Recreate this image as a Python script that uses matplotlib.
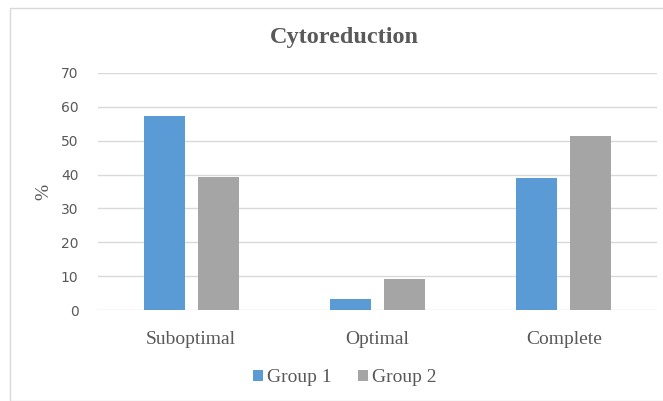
import matplotlib
matplotlib.use('Agg')
import matplotlib.pyplot as plt
import numpy as np
from matplotlib.patches import Rectangle

# data
categories = ['Suboptimal', 'Optimal', 'Complete']
group1 = [57.4, 3.3, 38.9]
group2 = [39.4, 9.1, 51.4]

blue = '#5B9BD5'
grey = '#A5A5A5'
text_grey = '#595959'

fig = plt.figure(figsize=(6.63, 4.01), dpi=100)
ax = fig.add_axes([98 / 663, 1 - 310 / 401, 559 / 663, 237 / 401])

x = np.arange(len(categories))
w = 0.22
ax.bar(x - 0.145, group1, w, color=blue, label='Group 1', zorder=3)
ax.bar(x + 0.145, group2, w, color=grey, label='Group 2', zorder=3)

ax.set_xlim(-0.5, 2.5)
ax.set_ylim(0, 70)
ax.set_yticks(range(0, 71, 10))
ax.yaxis.grid(True, color='#D9D9D9', linewidth=1, zorder=0)
for s in ax.spines.values():
    s.set_visible(False)
ax.tick_params(length=0)
ax.tick_params(axis='y', labelsize=10, labelcolor=text_grey, pad=14)
ax.set_xticks(x)
ax.set_xticklabels(categories, family='Liberation Serif', fontsize=14, color=text_grey)
ax.tick_params(axis='x', pad=15)

ax.set_ylabel('%', family='Liberation Serif', fontsize=14, color=text_grey, labelpad=6)

fig.text(0.52, 1 - 38 / 401, 'Cytoreduction', ha='center', va='center',
         family='Liberation Serif', fontsize=17.5, fontweight='bold', color=text_grey)

leg = fig.legend(loc='center', bbox_to_anchor=(0.52, 1 - 378 / 401), ncol=2, frameon=False,
                 prop={'family': 'Liberation Serif', 'size': 14}, handlelength=0.5,
                 handleheight=0.5, handletextpad=0.2, columnspacing=1.4)
for t in leg.get_texts():
    t.set_color(text_grey)

fig.patches.append(Rectangle((10 / 663, 0), 1, 1 - 8 / 401, transform=fig.transFigure,
                             fill=False, edgecolor='#D9D9D9', linewidth=1))

fig.savefig('out.png', dpi=100)
